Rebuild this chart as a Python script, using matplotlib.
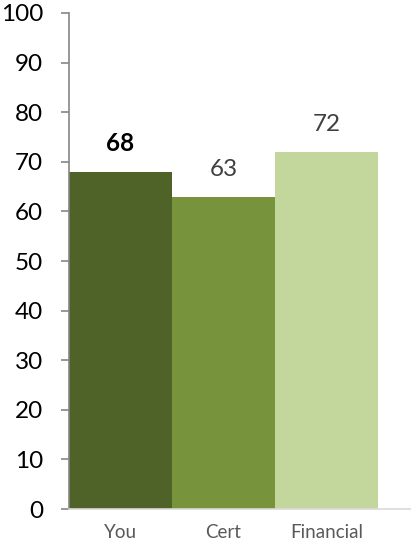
import matplotlib.pyplot as plt

categories = ["You", "Cert", "Financial"]
scores = [68, 63, 72]
colors = ["#4F6228", "#77933C", "#C3D69B"]
y_ticks = list(range(0, 101, 10))

plt.rcParams['font.family'] = ['Lato', 'DejaVu Sans']

fig = plt.figure(figsize=(4.11, 5.41), dpi=100)
ax = fig.add_axes([0.168, 0.059, 0.832, 0.917])

x = range(len(categories))
ax.bar(x, scores, width=1.0, color=colors, align='center')

for i, v in enumerate(scores):
    bold = i == 0
    ax.annotate(str(v), (i, v), xytext=(0, 12), textcoords='offset points',
                ha='center', va='bottom', fontsize=17.5,
                fontweight='bold' if bold else 'normal',
                color='black' if bold else '#404040')

ax.set_xlim(-0.5, 2.82)
ax.set_ylim(0, 100)
ax.set_yticks(y_ticks)
ax.set_xticks(list(x))
ax.set_xticklabels(categories, fontsize=13.5, color='#595959')
ax.tick_params(axis='x', length=0, pad=11)
ax.tick_params(axis='y', length=5.8, width=1.2, color='#868686', pad=13,
               labelsize=17.5, labelcolor='black')

for s in ['top', 'right']:
    ax.spines[s].set_visible(False)
ax.spines['left'].set_color('#868686')
ax.spines['left'].set_linewidth(1.2)
ax.spines['bottom'].set_color('#D9D9D9')
ax.spines['bottom'].set_linewidth(1.2)

fig.savefig('out.png', dpi=100)
